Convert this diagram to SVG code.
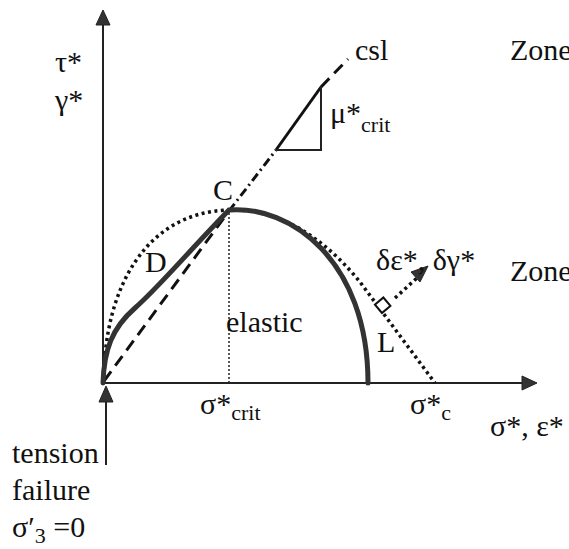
<svg xmlns="http://www.w3.org/2000/svg" width="569" height="549" viewBox="0 0 569 549">
<defs>
<style>
.lbl{font-size:30px;fill:#111}
.sub{font-size:22px}
.axis{stroke:#222;stroke-width:2;fill:none}
.head{fill:#333;stroke:#222;stroke-width:1}
.thick{stroke:#333;stroke-width:5;fill:none;stroke-linecap:round}
.dot{stroke:#111;stroke-width:3.5;fill:none;stroke-dasharray:3 3.5}
.dash{stroke:#111;stroke-width:3;fill:none;stroke-dasharray:12 7}
.thin{stroke:#222;stroke-width:2;fill:none}
</style>
</defs>
<rect width="569" height="549" fill="#fff"/>
<g id="axes">
<line class="axis" x1="103" y1="384" x2="103" y2="22"/>
<polygon class="head" points="103,10 96,25 110,25"/>
<line class="axis" x1="103" y1="383" x2="525" y2="383"/>
<polygon class="head" points="537,383 522,376 522,390"/>
</g>
<g id="connectors">
<line class="dash" x1="104" y1="381" x2="229" y2="211"/>
<line stroke="#111" stroke-width="3" stroke-dasharray="9 4 2 4" x1="229" y1="211" x2="276" y2="150"/>
<line stroke="#111" stroke-width="3" x1="276" y1="150" x2="321" y2="87"/>
<line class="dash" stroke-dasharray="10 5" x1="321" y1="87" x2="348" y2="59"/>
<polyline class="thin" points="276,150 321,150 321,86"/>
<line stroke="#222" stroke-width="1.5" stroke-dasharray="2 2" x1="229" y1="213" x2="229" y2="382"/>
<path class="dot" d="M104,380 C104,290 145,212 229,210"/>
<path class="dot" d="M229,210 C285,208 330,245 360,282 L435,383"/>
<path class="thick" d="M103,383 C104,350 112,328 135,308 S190,250 229,210 C290,205 368,260 368,383"/>
<rect x="0" y="-11" width="11" height="11" fill="#fff" stroke="#111" stroke-width="2" transform="translate(382,313) rotate(-40)"/>
<line class="dot" stroke-width="3" x1="395" y1="298" x2="418" y2="277"/>
<polygon class="head" points="428,266 411,272 420,282"/>
<line class="thin" x1="106" y1="465" x2="106" y2="400"/>
<polygon class="head" points="106,386 99,402 113,402"/>
</g>
<g id="labels" font-family="Liberation Serif, Times New Roman, DejaVu Serif, serif" font-size="30" fill="#111">
<text x="55" y="72">τ*</text>
<text x="55" y="110">γ*</text>
<text x="355" y="60">csl</text>
<text x="510" y="60">Zone</text>
<text x="330" y="123">μ*<tspan font-size="22" dy="9">crit</tspan></text>
<text x="213" y="200">C</text>
<text x="145" y="272">D</text>
<text x="226" y="332">elastic</text>
<text x="377" y="352">L</text>
<text x="376" y="270">δε*, δγ*</text>
<text x="510" y="281">Zone</text>
<text x="200" y="414">σ*<tspan font-size="22" dy="6">crit</tspan></text>
<text x="410" y="414">σ*<tspan font-size="22" dy="6">c</tspan></text>
<text x="490" y="436">σ*, ε*</text>
<text x="12" y="463">tension</text>
<text x="12" y="500">failure</text>
<text x="12" y="537">σ′<tspan font-size="22" dy="6">3</tspan><tspan dy="-6"> =0</tspan></text>
</g>
</svg>
